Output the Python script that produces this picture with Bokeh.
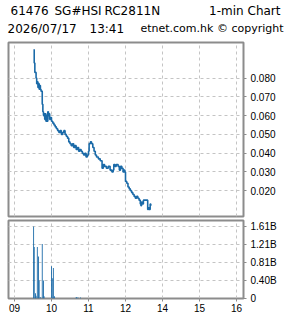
from bokeh.plotting import figure
from bokeh.layouts import column
from bokeh.models import FixedTicker, Range1d, ColumnDataSource
from bokeh.core.properties import value
from bokeh.embed import file_html
from bokeh.resources import INLINE

# ---------------- data ----------------
price_times = [
    "09:31", "09:32", "09:33", "09:35", "09:36", "09:37", "09:38", "09:39", "09:40", "09:41",
    "09:42", "09:43", "09:45", "09:46", "09:47", "09:48", "09:49", "09:50", "09:51", "09:52",
    "09:53", "09:54", "09:55", "09:56", "09:57", "09:58", "10:00", "10:02", "10:04", "10:06",
    "10:08", "10:10", "10:12", "10:14", "10:16", "10:18", "10:20", "10:22", "10:24", "10:26",
    "10:28", "10:30", "10:32", "10:34", "10:36", "10:38", "10:40", "10:42", "10:44", "10:46",
    "10:48", "10:50", "10:52", "10:54", "10:56", "10:58", "11:00", "11:01", "11:03", "11:05",
    "11:07", "11:09", "11:11", "11:13", "11:16", "11:19", "11:22", "11:24", "11:26", "11:29",
    "11:32", "11:35", "11:38", "11:40", "11:41", "11:43", "11:45", "11:48", "11:50", "11:52",
    "11:54", "11:56", "11:58", "11:59",
    "13:00", "13:02", "13:04", "13:06", "13:08", "13:10", "13:12", "13:14", "13:16", "13:18",
    "13:20", "13:22", "13:24", "13:25", "13:26", "13:27", "13:29", "13:36", "13:37", "13:38",
    "13:40", "13:41",
]
prices = [
    0.095, 0.088, 0.083, 0.080, 0.077, 0.078, 0.075, 0.077, 0.074, 0.076,
    0.074, 0.073, 0.066, 0.062, 0.060, 0.061, 0.058, 0.061, 0.057, 0.060,
    0.057, 0.062, 0.060, 0.061, 0.058, 0.059, 0.057, 0.056, 0.055, 0.054,
    0.053, 0.052, 0.051, 0.052, 0.050, 0.051, 0.052, 0.050, 0.049, 0.048,
    0.046, 0.045, 0.044, 0.045, 0.043, 0.044, 0.042, 0.043, 0.041, 0.042,
    0.041, 0.040, 0.039, 0.040, 0.038, 0.039, 0.041, 0.045, 0.046, 0.045,
    0.043, 0.041, 0.039, 0.038, 0.037, 0.036, 0.032, 0.034, 0.033, 0.032,
    0.033, 0.031, 0.030, 0.031, 0.034, 0.033, 0.034, 0.033, 0.031, 0.033,
    0.032, 0.030, 0.031, 0.030,
    0.025, 0.024, 0.022, 0.021, 0.020, 0.019, 0.018, 0.017, 0.016, 0.017,
    0.016, 0.015, 0.013, 0.012, 0.014, 0.013, 0.015, 0.010, 0.011, 0.010,
    0.013, 0.012,
]

vol_times = ["09:31", "09:32", "09:34", "09:35", "09:37", "09:39", "09:40", "09:42",
             "09:45", "09:47", "09:48", "10:00", "10:02", "10:03", "10:05",
             "10:40", "10:41", "10:43", "10:47"]
volumes_b = [1.61, 1.15, 0.12, 0.06, 1.15, 0.94, 0.40, 0.03,
             1.22, 0.40, 0.05, 0.72, 0.45, 0.68, 0.05,
             0.03, 0.03, 0.02, 0.02]

x_ticks = [9, 10, 11, 12, 13, 14, 15]
x_tick_labels = ["09", "10", "11", "12", "14", "15", "16"]
price_ticks = [0.02, 0.03, 0.04, 0.05, 0.06, 0.07, 0.08]
vol_ticks = [0, 0.4025, 0.805, 1.2075, 1.61]
vol_tick_labels = ["0", "0.40B", "0.81B", "1.21B", "1.61B"]

header_line1_left = ["61476", "SG#HSI", "RC2811N"]
header_line1_right = "1-min Chart"
header_line2_left = ["2026/07/17", "13:41"]
header_line2_right = "etnet.com.hk © copyright"


def to_x(t):
    h, m = map(int, t.split(":"))
    if h >= 13:          # lunch break (12:00-13:00) removed from the axis
        h -= 1
    return h + m / 60.0


BLUE = "#1a6aa8"
BORDER = "#8c8c8c"
GRID = "#c4c4c4"
FONT = "DejaVu Sans"
TICKFONT = "Liberation Sans"

# ---------------- header ----------------
hdr = figure(width=285, height=40, x_range=Range1d(0, 285), y_range=Range1d(40, 0),
             output_backend="svg", toolbar_location=None,
             x_axis_location=None, y_axis_location=None,
             min_border=0, outline_line_color=None)
hdr.frame_align = False
hdr.grid.visible = False
hdr.text(x=[10, 54, 104], y=[10, 10, 10], text=header_line1_left,
         text_font=value(FONT), text_font_size="12px", text_baseline="middle",
         text_align="left", text_color="black")
hdr.text(x=[280], y=[10], text=[header_line1_right],
         text_font=value(FONT), text_font_size="12px", text_baseline="middle",
         text_align="right", text_color="black")
hdr.text(x=[7, 89], y=[28, 28], text=header_line2_left,
         text_font=value(FONT), text_font_size="12px", text_baseline="middle",
         text_align="left", text_color="black")
hdr.text(x=[283], y=[28], text=[header_line2_right],
         text_font=value(FONT), text_font_size="11px", text_baseline="middle",
         text_align="right", text_color="black")

# ---------------- price panel ----------------
xr = Range1d(8.838, 15.189)
p = figure(width=285, height=178, x_range=xr, y_range=Range1d(0.00631, 0.0989),
           output_backend="svg", toolbar_location=None,
           x_axis_location=None, y_axis_location="right",
           min_border_left=8, min_border_right=42, min_border_top=2, min_border_bottom=2)
p.outline_line_color = BORDER
p.outline_line_width = 2
p.xgrid.ticker = FixedTicker(ticks=x_ticks)
p.ygrid.ticker = FixedTicker(ticks=price_ticks)
for g in (p.xgrid, p.ygrid):
    g.grid_line_color = GRID
    g.grid_line_dash = "3 3"
    g.grid_line_width = 1
yax = p.yaxis[0]
yax.ticker = FixedTicker(ticks=price_ticks)
yax.major_label_overrides = {t: f"{t:.3f}" for t in price_ticks}
yax.axis_line_color = None
yax.major_tick_line_color = BORDER
yax.major_tick_out = 3
yax.major_tick_in = 0
yax.minor_tick_line_color = None
yax.major_label_standoff = 4
yax.major_label_text_font = TICKFONT
yax.major_label_text_font_size = "10px"
yax.major_label_text_color = "black"

src = ColumnDataSource(dict(x=[to_x(t) for t in price_times], y=prices))
p.step("x", "y", source=src, mode="after", line_color=BLUE, line_width=1.6)

# ---------------- volume panel ----------------
v = figure(width=285, height=100, x_range=xr, y_range=Range1d(0, 1.744),
           output_backend="svg", toolbar_location=None,
           x_axis_location="below", y_axis_location="right",
           min_border_left=8, min_border_right=42, min_border_top=2, min_border_bottom=20)
v.outline_line_color = BORDER
v.outline_line_width = 2
v.xgrid.ticker = FixedTicker(ticks=x_ticks)
v.ygrid.ticker = FixedTicker(ticks=vol_ticks)
for g in (v.xgrid, v.ygrid):
    g.grid_line_color = GRID
    g.grid_line_dash = "3 3"
    g.grid_line_width = 1
vy = v.yaxis[0]
vy.ticker = FixedTicker(ticks=vol_ticks)
vy.major_label_overrides = dict(zip(vol_ticks, vol_tick_labels))
vx = v.xaxis[0]
vx.ticker = FixedTicker(ticks=x_ticks)
vx.major_label_overrides = dict(zip(x_ticks, x_tick_labels))
for ax in (vy, vx):
    ax.axis_line_color = None
    ax.major_tick_line_color = BORDER
    ax.major_tick_out = 3
    ax.major_tick_in = 0
    ax.minor_tick_line_color = None
    ax.major_label_text_font = TICKFONT
    ax.major_label_text_font_size = "10px"
    ax.major_label_text_color = "black"
vy.major_label_standoff = 4
vx.major_label_standoff = 2

vsrc = ColumnDataSource(dict(x=[to_x(t) for t in vol_times], top=volumes_b))
v.vbar(x="x", top="top", bottom=0, width=0.024, source=vsrc,
       fill_color=BLUE, line_color=None)

layout = column(hdr, p, v, spacing=0)
open("out.html", "w").write(file_html(layout, INLINE))
